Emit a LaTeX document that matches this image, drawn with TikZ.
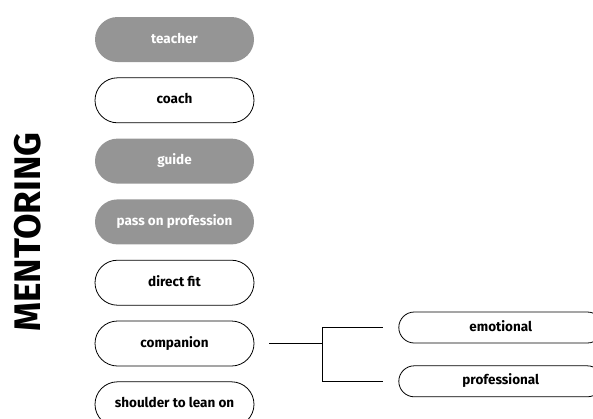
\documentclass[tikz,border=0pt]{standalone}
\usepackage{fontspec}
\setmainfont{Fira Sans}
\usepackage{xcolor}
\usepackage{tikz}
\usetikzlibrary{positioning}

\definecolor{boxgray}{HTML}{959595}

\begin{document}
\begin{tikzpicture}[node distance=15pt, line width=.8pt]

  \tikzstyle{role}=[rounded corners=22.5pt, minimum width=159pt, minimum height=45pt,
    font=\bfseries\fontsize{13.5}{15}\selectfont, text height=1.6ex, text depth=.2ex]
  \tikzstyle{filled}=[role, fill=boxgray, text=white]
  \tikzstyle{plain}=[role, draw]
  \tikzstyle{side}=[plain, rounded corners=15.5pt, minimum width=204pt, minimum height=31pt]
  \tikzstyle{title}=[font=\bfseries\fontsize{37}{40}\selectfont, rotate=90]

  \useasboundingbox (0,0) rectangle (593pt,-418pt);

  \node [filled] (teacher) at (174.5pt,-39.5pt) {teacher};
  \node [plain, below = of teacher] (coach) {coach};
  \node [filled, below = of coach] (guide) {guide};
  \node [filled, below = of guide] (pass) {pass on profession};
  \node [plain, below = of pass] (fit) {direct fit};
  \node [plain, below = of fit] (companion) {companion};
  \node [plain, below = of companion] (shoulder) {shoulder to lean on};

  \node [title] (mentoring) at (28pt,-232pt) {MENTORING};

  \coordinate [right = 68pt of companion.east] (split);
  \node [side, right = 76pt of split, yshift=16pt] (emotional) {emotional};
  \node [side, below = 22pt of emotional] (professional) {professional};

  \draw [shorten <=15pt] (companion) -- (split);
  \draw [shorten >=15pt] (split) |- (emotional);
  \draw [shorten >=15pt] (split) |- (professional);
\end{tikzpicture}
\end{document}
